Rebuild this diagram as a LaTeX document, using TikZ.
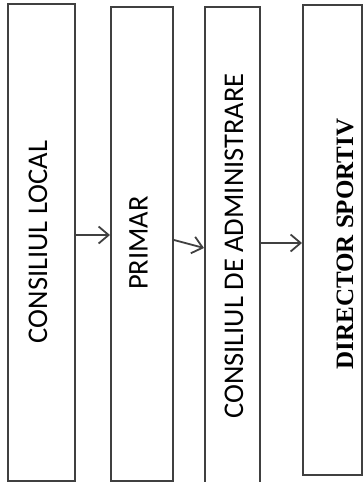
\documentclass[tikz,border=0pt]{standalone}
\usepackage{fontspec}
\setmainfont{Carlito}
\newfontfamily\timesbold[BoldFont={Liberation Serif Bold}]{Liberation Serif}
\usetikzlibrary{positioning,arrows.meta}
\tikzset{
  % Specifications for style of nodes:
  base/.style = {
    rectangle,
    draw=black!75,
    line width=2pt,
    inner sep=0pt
  },
  column/.style = {
    base,
    fill=white
  },
  caption/.style = {
    rotate=90,
    inner sep=0pt,
    text=black,
    font=\fontsize{28.5}{28.5}\selectfont
  },
  captionserif/.style = {
    caption,
    font=\timesbold\bfseries\fontsize{25}{25}\selectfont
  },
  link/.style = {
    draw=black!75,
    line width=1.8pt,
    -{Straight Barb[length=10pt,width=17pt,line width=1.8pt]}
  },
}
\begin{document}
\begin{tikzpicture}[x=1pt,y=-1pt]
    \useasboundingbox (0,0) rectangle (363,482);
    % Specification of nodes (position, etc.)
    \node[column, minimum width=67pt, minimum height=477pt] (local)    at (41.5,242.5) {};
    \node[column, minimum width=62pt, minimum height=474pt] (primar)   at (142,244)    {};
    \node[column, minimum width=55pt, minimum height=476pt] (admin)    at (232.5,245)  {};
    \node[column, minimum width=59pt, minimum height=470pt] (director) at (332.5,240)  {};
    \node[caption]      (localtxt)    at (38,242)    {CONSILIUL LOCAL};
    \node[caption]      (primartxt)   at (138.5,243) {PRIMAR};
    \node[caption]      (admintxt)    at (234,246)   {CONSILIUL DE ADMINISTRARE};
    \node[captionserif] (directortxt) at (345,244)   {DIRECTOR SPORTIV};
    % Arrows between the columns
    \draw[link] ([yshift=7.5pt]local.east) -- ([yshift=9pt]primar.west);
    \draw[link] ([yshift=4pt]primar.east)  -- ([yshift=-3pt]admin.west);
    \draw[link] ([yshift=2pt]admin.east)   -- ([yshift=-3pt]director.west);
\end{tikzpicture}
\end{document}
